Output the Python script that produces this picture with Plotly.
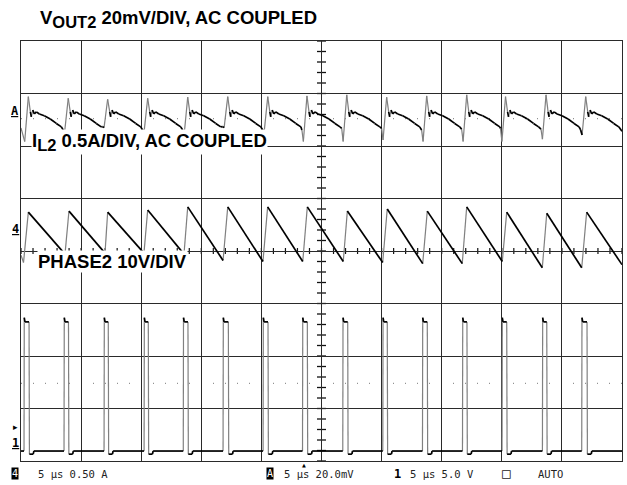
import plotly.graph_objects as go

# ---------------- channel settings ----------------
VOUT_SCALE = 20.0     # mV / div
IL_SCALE = 0.5        # A / div
PH_SCALE = 5.0        # V / div
VOUT_REF = 2.63       # channel marker positions (div from screen centre)
IL_REF = 0.36
PH_REF = -3.81

# ---------------- VOUT2 (mV, AC coupled) ----------------
VOUT_SPIKE_T = [0.61, 3.93, 7.21, 10.54, 13.87, 17.20, 20.53, 23.79,
                27.10, 30.42, 33.75, 37.08, 40.31, 43.68, 46.98]
VOUT_PEAK_MV = [6.2, 5.6, 5.2, 5.6, 6.0, 6.2, 6.2, 6.5,
                6.9, 6.0, 6.5, 6.9, 6.2, 6.9, 6.2]
VOUT_DIP_MV = [-10.9, -7.2, -5.6, -7.2, -8.4, -5.6, -7.2, -10.9,
               -10.9, -10.3, -10.9, -10.9, -10.9, -10.0, -8.4]
VOUT_RAMP_END_MV = [-6.5, -5.2, -6.5, -6.5, -5.2, -6.5, -6.5, -5.9,
                    -5.9, -6.5, -6.2, -5.9, -6.2, -6.5]
VOUT_START_MV = -5.7
VOUT_END_MV = -7.0
VOUT_RING_DT = [0.17, 0.25, 0.37, 0.50, 0.67, 0.92, 1.33, 1.83, 2.33, 2.75]
VOUT_RING_MV = [0.4, -1.5, 1.1, -0.4, 0.4, -0.4, -1.1, -2.3, -4.0, -5.3]

# ---------------- IL2 (A, AC coupled) ----------------
IL_T = [0.0, 0.21, 0.61, 3.66, 3.99, 6.99, 7.21, 10.23, 10.54, 13.56, 13.87,
        16.81, 17.20, 20.13, 20.52, 23.44, 23.82, 26.81, 27.15, 30.09, 30.47,
        33.42, 33.80, 36.71, 37.08, 40.04, 40.41, 43.37, 43.74, 46.65, 47.06, 50.0]
IL_A = [-0.22, -0.29, 0.19, -0.21, 0.20, -0.20, 0.19, -0.20, 0.21, -0.21, 0.24,
        -0.27, 0.24, -0.28, 0.24, -0.28, 0.24, -0.28, 0.20, -0.29, 0.22,
        -0.30, 0.20, -0.30, 0.24, -0.28, 0.19, -0.34, 0.18, -0.34, 0.19, -0.31]

# ---------------- PHASE2 (V) ----------------
PH_RISE_T = [0.27, 3.60, 6.93, 10.26, 13.52, 16.83, 20.16, 23.44,
             26.79, 30.12, 33.42, 36.75, 40.04, 43.40, 46.67]
PH_FALL_T = [0.67, 3.95, 7.26, 10.59, 13.89, 17.25, 20.55, 23.82,
             27.18, 30.47, 33.80, 37.10, 40.41, 43.74, 47.09]
PH_HIGH_V = 12.3
PH_OVERSHOOT_V = 12.7
PH_LOW_V = 0.0
PH_UNDERSHOOT_V = -0.3

# ---------------- screen geometry ----------------
W, H = 627, 485
ML, MR, MT, MB = 21, 5, 41, 24
PW, PH_ = W - ML - MR, H - MT - MB
X_RANGE = [0, 50]
Y_RANGE = [-4, 4]
PX_X = PW / (X_RANGE[1] - X_RANGE[0])
PX_Y = PH_ / (Y_RANGE[1] - Y_RANGE[0])

# ---------- build polylines from readings ----------
vt, vv = [0.0], [VOUT_START_MV]
for i, ts in enumerate(VOUT_SPIKE_T):
    vt.append(ts - 0.30); vv.append(VOUT_DIP_MV[i])
    vt.append(ts); vv.append(VOUT_PEAK_MV[i])
    for dt, mv in zip(VOUT_RING_DT, VOUT_RING_MV):
        if ts + dt < X_RANGE[1]:
            vt.append(ts + dt); vv.append(mv)
    if i + 1 < len(VOUT_SPIKE_T):
        vt.append(VOUT_SPIKE_T[i + 1] - 0.42); vv.append(VOUT_RAMP_END_MV[i])
vt.append(X_RANGE[1]); vv.append(VOUT_END_MV)
vout_y = [VOUT_REF + v / VOUT_SCALE for v in vv]

il_y = [IL_REF + a / IL_SCALE for a in IL_A]

pt, pv = [0.0], [PH_LOW_V]
for r, f in zip(PH_RISE_T, PH_FALL_T):
    pt += [r - 0.02, r, r + 0.06, f, f + 0.03, f + 0.35, f + 0.40]
    pv += [PH_LOW_V, PH_OVERSHOOT_V, PH_HIGH_V, PH_HIGH_V,
           PH_UNDERSHOOT_V, PH_UNDERSHOOT_V, PH_LOW_V]
pt.append(X_RANGE[1]); pv.append(PH_LOW_V)
ph_y = [PH_REF + v / PH_SCALE for v in pv]


def split_edges(t, y):
    """Separate fast (steep) segments - drawn faint like on a scope - from slow ones."""
    bx, by, gx, gy = [], [], [], []
    for k in range(len(t) - 1):
        dxp = abs(t[k + 1] - t[k]) * PX_X
        dyp = abs(y[k + 1] - y[k]) * PX_Y
        if dyp > 6 and dyp > 2.5 * dxp:
            gx += [t[k], t[k + 1], None]; gy += [y[k], y[k + 1], None]
        else:
            bx += [t[k], t[k + 1], None]; by += [y[k], y[k + 1], None]
    return bx, by, gx, gy


fig = go.Figure()
for t, y in [(vt, vout_y), (IL_T, il_y), (pt, ph_y)]:
    bx, by, gx, gy = split_edges(t, y)
    fig.add_trace(go.Scatter(x=gx, y=gy, mode="lines",
                             line=dict(color="#808080", width=1.2),
                             hoverinfo="skip", showlegend=False))
    fig.add_trace(go.Scatter(x=bx, y=by, mode="lines",
                             line=dict(color="#000000", width=1.7),
                             hoverinfo="skip", showlegend=False))

# ---------- graticule details ----------
shapes = []
cx = (X_RANGE[0] + X_RANGE[1]) / 2
for k in range(-20, 21):
    yy = k * 0.2
    shapes.append(dict(type="line", xref="x", yref="y", x0=cx - 4.5 / PX_X, x1=cx + 4.5 / PX_X,
                       y0=yy, y1=yy, line=dict(color="#111", width=1.3), layer="below"))
for k in range(0, 51):
    shapes.append(dict(type="line", xref="x", yref="y", x0=k, x1=k,
                       y0=-3 / PX_Y, y1=3 / PX_Y, line=dict(color="#111", width=1.2), layer="below"))
for yy in (2.52, -2.52):
    shapes.append(dict(type="line", xref="x", yref="y", x0=0, x1=50, y0=yy, y1=yy,
                       line=dict(color="#777", width=1, dash="1px,11px"), layer="below"))

LBL = dict(family="Liberation Sans, Arial, sans-serif", size=18.5, color="#000")
MONO = dict(family="DejaVu Sans Mono, monospace", size=10.5, color="#222")


def px2paper_x(px):
    return (px - ML) / PW


def px2paper_y(py):
    return (H - MB - py) / PH_


annotations = [
    dict(text="<b>V<sub><span style='font-size:16.5px'>OUT2</span></sub> 20mV/DIV, AC COUPLED</b>",
         xref="paper", yref="paper",
         x=px2paper_x(38), y=px2paper_y(19), xanchor="left", yanchor="middle",
         showarrow=False, font=LBL),
    dict(text="<b>I<sub><span style='font-size:16.5px'>L2</span></sub> 0.5A/DIV, AC COUPLED</b>",
         xref="paper", yref="paper",
         x=px2paper_x(31), y=px2paper_y(142), xanchor="left", yanchor="middle",
         showarrow=False, font=LBL, bgcolor="white", borderpad=0),
    dict(text="<b>PHASE2 10V/DIV</b>", xref="paper", yref="paper",
         x=px2paper_x(37), y=px2paper_y(261), xanchor="left", yanchor="middle",
         showarrow=False, font=LBL, bgcolor="white", borderpad=0),
    # channel markers
    dict(text="<b><u>A</u></b>", xref="paper", yref="paper", x=px2paper_x(21), y=px2paper_y(111),
         xanchor="right", yanchor="middle", showarrow=False,
         font=dict(family="DejaVu Sans Mono, monospace", size=12, color="#000")),
    dict(text="<b><u>4</u></b>", xref="paper", yref="paper", x=px2paper_x(21), y=px2paper_y(229),
         xanchor="right", yanchor="middle", showarrow=False,
         font=dict(family="DejaVu Sans Mono, monospace", size=12, color="#000")),
    dict(text="<b><u>1</u></b>", xref="paper", yref="paper", x=px2paper_x(21), y=px2paper_y(443),
         xanchor="right", yanchor="middle", showarrow=False,
         font=dict(family="DejaVu Sans Mono, monospace", size=12, color="#000")),
    dict(text="▸", xref="paper", yref="paper", x=px2paper_x(20), y=px2paper_y(427),
         xanchor="right", yanchor="middle", showarrow=False,
         font=dict(family="DejaVu Sans, sans-serif", size=9, color="#000")),
    # trigger marker
    dict(text="▲", xref="x", yref="paper", x=(304 - ML) / PX_X, y=px2paper_y(461),
         xanchor="center", yanchor="top", showarrow=False, borderpad=0,
         font=dict(family="DejaVu Sans, sans-serif", size=5, color="#000")),
    # status line
    dict(text="4", xref="paper", yref="paper", x=px2paper_x(15), y=px2paper_y(474),
         xanchor="center", yanchor="middle", showarrow=False, bgcolor="#000", borderpad=0,
         font=dict(MONO, color="#fff", size=10)),
    dict(text="5 µs 0.50 A", xref="paper", yref="paper", x=px2paper_x(36), y=px2paper_y(474),
         xanchor="left", yanchor="middle", showarrow=False, font=MONO),
    dict(text="A", xref="paper", yref="paper", x=px2paper_x(270), y=px2paper_y(474),
         xanchor="center", yanchor="middle", showarrow=False, bgcolor="#000", borderpad=0,
         font=dict(MONO, color="#fff", size=10)),
    dict(text="5 µs 20.0mV", xref="paper", yref="paper", x=px2paper_x(282), y=px2paper_y(474),
         xanchor="left", yanchor="middle", showarrow=False, font=MONO),
    dict(text="<b>1</b>", xref="paper", yref="paper", x=px2paper_x(397), y=px2paper_y(474),
         xanchor="center", yanchor="middle", showarrow=False, font=dict(MONO, size=12, color="#000")),
    dict(text="5 µs 5.0 V", xref="paper", yref="paper", x=px2paper_x(408), y=px2paper_y(474),
         xanchor="left", yanchor="middle", showarrow=False, font=MONO),
    dict(text="□", xref="paper", yref="paper", x=px2paper_x(507), y=px2paper_y(473),
         xanchor="center", yanchor="middle", showarrow=False, font=dict(MONO, size=14)),
    dict(text="AUTO", xref="paper", yref="paper", x=px2paper_x(536), y=px2paper_y(474),
         xanchor="left", yanchor="middle", showarrow=False, font=MONO),
]

axis_common = dict(showgrid=True, gridcolor="#2a2a2a", gridwidth=1, zeroline=False,
                   showticklabels=False, ticks="", showline=True, mirror=True,
                   linecolor="#2a2a2a", linewidth=1, fixedrange=True)
fig.update_layout(
    width=W, height=H, margin=dict(l=ML, r=MR, t=MT, b=MB),
    paper_bgcolor="white", plot_bgcolor="white",
    xaxis=dict(axis_common, range=X_RANGE, dtick=5, tick0=0),
    yaxis=dict(axis_common, range=Y_RANGE, dtick=1, tick0=0),
    shapes=shapes, annotations=annotations, showlegend=False,
)
fig.write_html("out.html", config={"displayModeBar": False, "staticPlot": True},
               post_script="document.body.style.margin='0px';document.body.style.padding='0px';")
